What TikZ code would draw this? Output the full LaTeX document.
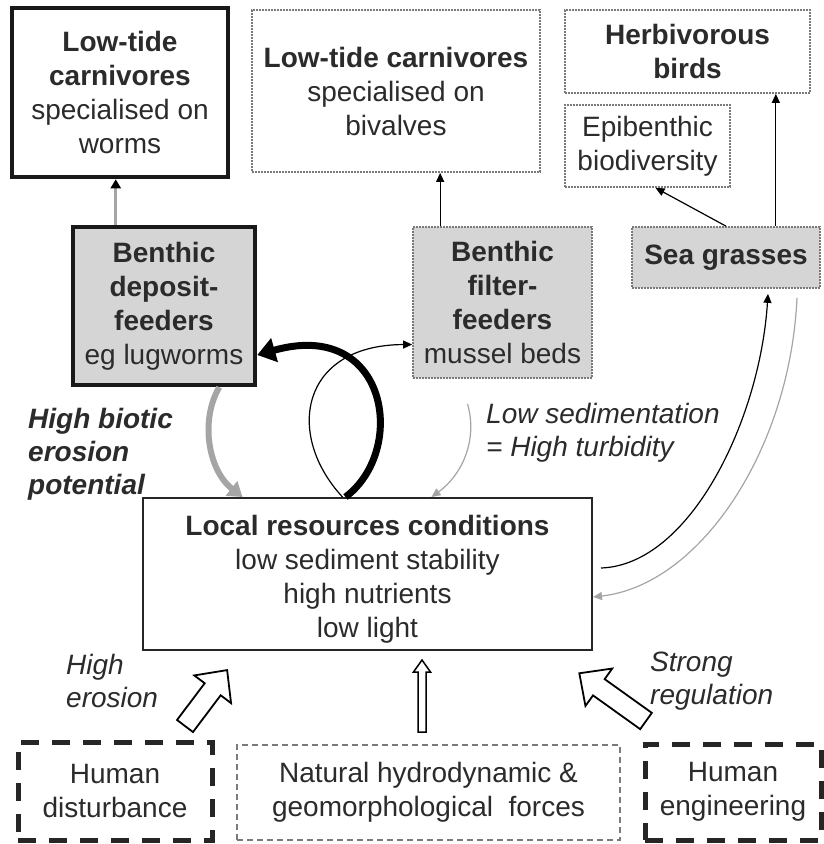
\documentclass[tikz,border=0pt]{standalone}
\usepackage{fontspec}
\setmainfont{Liberation Sans}
\usetikzlibrary{arrows.meta}
\definecolor{txt}{HTML}{2B2B2B}
\definecolor{boxgray}{HTML}{D5D5D5}
\definecolor{dotgray}{HTML}{7A7A7A}
\definecolor{arrgray}{HTML}{A5A5A5}
\begin{document}
\begin{tikzpicture}[x=1pt,y=-1pt,
  every node/.style={font=\fontsize{28}{34}\selectfont, text=txt, align=center, inner sep=0pt},
  thickbox/.style={draw=black!90, line width=4.5pt},
  dotbox/.style={draw=dotgray, line width=1.7pt, dash pattern=on 1.6pt off 1.4pt},
  dashbox/.style={draw=black!85, line width=5pt, dash pattern=on 18pt off 13pt},
  natbox/.style={draw=dotgray, line width=1.5pt, dash pattern=on 6pt off 4pt},
  shaded/.style={fill=boxgray},
  lbl/.style={font=\fontsize{28}{33}\selectfont\itshape, align=left, anchor=west},
  thinarr/.style={draw=black, line width=1.2pt, -{Triangle[length=9pt,width=8pt]}},
  grayarr/.style={draw=arrgray, line width=1.2pt, -{Triangle[length=9pt,width=8pt]}},
  blockarr/.style={draw=black, line width=1.8pt, fill=white, line join=miter}
]
\useasboundingbox (0,0) rectangle (824,844);
\fill[white] (0,0) rectangle (824,844);

% boxes
\node[thickbox, minimum width=216pt, minimum height=169pt] (A) at (120,92.5)
  {\textbf{Low-tide}\\\textbf{carnivores}\\specialised on\\worms};
\node[dotbox, minimum width=288pt, minimum height=162pt] (B) at (396,91)
  {\textbf{Low-tide carnivores}\\specialised on\\bivalves};
\node[dotbox, minimum width=245pt, minimum height=83pt] (C) at (687.5,51.5)
  {\textbf{Herbivorous}\\\textbf{birds}};
\node[dotbox, minimum width=165pt, minimum height=82pt] (D) at (647.5,146)
  {Epibenthic\\biodiversity};
\node[thickbox, shaded, minimum width=182pt, minimum height=158pt] (E) at (164,306)
  {\textbf{Benthic}\\\textbf{deposit-}\\\textbf{feeders}\\eg lugworms};
\node[dotbox, shaded, minimum width=179pt, minimum height=151pt] (F) at (502.5,302.5)
  {\textbf{Benthic}\\\textbf{filter-}\\\textbf{feeders}\\mussel beds};
\node[dotbox, shaded, minimum width=188pt, minimum height=61pt] (G) at (726,257.5)
  {\textbf{Sea grasses}};
\node[draw=black!85, line width=2pt, minimum width=449pt, minimum height=152pt] (H) at (367.5,574) {};
\node (Ht) at ([yshift=-5pt]H.center)
  {\textbf{Local resources conditions}\\low sediment stability\\high nutrients\\low light};
\node[dashbox, minimum width=194pt, minimum height=98pt] (I) at (115,791)
  {Human\\disturbance};
\node[natbox, minimum width=383pt, minimum height=95pt] (J) at (428.5,792.5)
  {Natural hydrodynamic \&\\geomorphological\ \ forces};
\node[dashbox, minimum width=176pt, minimum height=96pt] (K) at (733,792)
  {Human\\engineering};

% straight connectors
\draw[draw=arrgray, line width=3pt, -{Triangle[length=9pt,width=10pt,color=black]}]
  ([xshift=45pt]E.north west) -- ([xshift=45pt]E.north west |- A.south);
\draw[thinarr] ([xshift=28pt]F.north west) -- ([xshift=28pt]F.north west |- B.south);
\draw[thinarr] ([xshift=-45pt]G.north east) -- ([xshift=-45pt]G.north east |- C.south);
\draw[thinarr] (G.north) -- ([xshift=8pt]D.south);

% curved connectors
\draw[draw=black, line width=7pt, -{Triangle[length=18pt,width=24pt]}]
  ([xshift=-22pt]H.north) .. controls (408,450) and (388,318) .. ([yshift=-49pt]E.east);
\draw[thinarr] ([xshift=-25pt]H.north) .. controls (285,435) and (300,345) .. ([yshift=-42pt]F.west);
\draw[draw=arrgray, line width=6pt, -{Triangle[length=14pt,width=18pt]}]
  ([xshift=-38pt]E.south east) .. controls (200,420) and (208,470) .. ([xshift=-125pt]H.north);
\draw[grayarr] ([xshift=-35pt,yshift=-25pt]F.south) .. controls (478,440) and (462,475) .. ([xshift=64pt]H.north);
\draw[thinarr] ([xshift=8pt,yshift=6pt]H.east) .. controls (690,565) and (760,420) .. ([xshift=42pt,yshift=-5pt]G.south);
\draw[grayarr] ([xshift=71pt,yshift=-9pt]G.south) .. controls (790,450) and (700,585) .. ([yshift=-23pt]H.east);

% block arrows (tail at origin, pointing along +x)
\coordinate (t1) at (185,726);
\coordinate (t2) at (422,732);
\coordinate (t3) at (646,721);
\draw[blockarr, shift={(t1)}, rotate=53]
  (0,-10) -- (46,-10) -- (46,-23) -- (70,0) -- (46,23) -- (46,10) -- (0,10) -- cycle;
\draw[blockarr, line width=1.5pt, shift={(t2)}, rotate=90]
  (0,-4) -- (60,-4) -- (60,-8.5) -- (72,0) -- (60,8.5) -- (60,4) -- (0,4) -- cycle;
\draw[blockarr, shift={(t3)}, rotate=144.4]
  (0,-10) -- (58,-10) -- (58,-23) -- (82,0) -- (58,23) -- (58,10) -- (0,10) -- cycle;

% labels
\node[lbl, font=\fontsize{28}{33}\selectfont\bfseries\itshape] (l1) at (28,454) {High biotic\\erosion\\potential};
\node[lbl] (l2) at (486,433) {Low sedimentation\\= High turbidity};
\node[lbl] (l3) at (66,681) {High\\erosion};
\node[lbl] (l4) at (650,681) {Strong\\regulation};
\end{tikzpicture}
\end{document}
